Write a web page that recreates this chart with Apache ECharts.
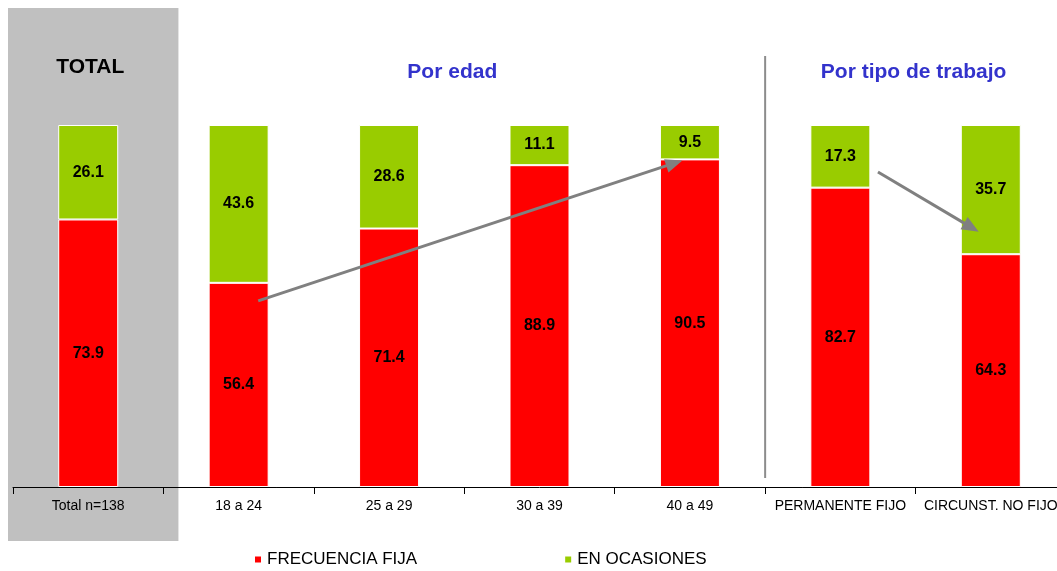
<!DOCTYPE html>
<html><head><meta charset="utf-8">
<script src="https://cdn.jsdelivr.net/npm/echarts@6/dist/echarts.min.js"></script>
<style>html,body{margin:0;padding:0;background:#fff;overflow:hidden}#c{width:1066px;height:571px}</style>
</head><body><div id="c"></div>
<script>
const categories = ['Total n=138','18 a 24','25 a 29','30 a 39','40 a 49','PERMANENTE FIJO','CIRCUNST. NO FIJO'];
const frecuenciaFija = [73.9,56.4,71.4,88.9,90.5,82.7,64.3];
const enOcasiones = [26.1,43.6,28.6,11.1,9.5,17.3,35.7];
const seriesNames = ['FRECUENCIA FIJA','EN OCASIONES'];
// arrow annotations in data space: [categoryIndex (0 = centre of first bar), value]
const arrowAge = [[1.13,51.4],[3.95,90.2]];
const arrowJob = [[5.25,87],[5.92,70.5]];

const chart = echarts.init(document.getElementById('c'));
const font = 'Liberation Sans, Arial, sans-serif';
const lbl = {show:true,position:'inside',color:'#000',fontWeight:'bold',fontSize:16,fontFamily:font,formatter:p=>p.value.toFixed(1)};
chart.setOption({
  animation:false,
  grid:{left:13,top:125,right:0,bottom:84,containLabel:false},
  legend:{top:546,left:248,itemGap:146,itemWidth:8,itemHeight:8,icon:'rect',
    textStyle:{fontSize:17,fontFamily:font,color:'#000'},data:seriesNames},
  xAxis:{type:'category',data:categories,
    axisLine:{lineStyle:{color:'#000',width:1}},
    axisTick:{show:true,length:7,lineStyle:{color:'#000'}},
    axisLabel:{interval:0,fontSize:14,fontFamily:font,color:'#000',margin:12}},
  yAxis:{type:'value',min:0,max:100,show:false,splitLine:{show:false}},
  series:[
    {name:seriesNames[0],type:'bar',stack:'a',barWidth:60,data:frecuenciaFija,
      itemStyle:{color:'#FF0000',borderColor:'#fff',borderWidth:1},label:lbl},
    {name:seriesNames[1],type:'bar',stack:'a',barWidth:60,data:enOcasiones,
      itemStyle:{color:'#99CC00',borderColor:'#fff',borderWidth:1},label:lbl}
  ]
});

function px(pt){
  const a = chart.convertToPixel({gridIndex:0},[0,0]);
  const b = chart.convertToPixel({gridIndex:0},[1,100]);
  const step = b[0]-a[0];
  return [a[0]+pt[0]*step, a[1]+(b[1]-a[1])*pt[1]/100];
}
function arrow(seg){
  const p0 = px(seg[0]), p1 = px(seg[1]);
  const dx=p1[0]-p0[0], dy=p1[1]-p0[1], L=Math.hypot(dx,dy), ux=dx/L, uy=dy/L;
  const hl=17, hw=7;
  const bx=p1[0]-ux*hl, by=p1[1]-uy*hl;
  return [
    {type:'line',shape:{x1:p0[0],y1:p0[1],x2:bx+ux*2,y2:by+uy*2},style:{stroke:'#808080',lineWidth:3},z:10},
    {type:'polygon',shape:{points:[[p1[0],p1[1]],[bx-uy*hw,by+ux*hw],[bx+uy*hw,by-ux*hw]]},style:{fill:'#808080'},z:10}
  ];
}
const b01 = px([0.5,0])[0];
const sepX = px([4.5,0])[0];
chart.setOption({graphic:[
  {type:'rect',shape:{x:8,y:8,width:b01+15-8,height:533},style:{fill:'#C0C0C0'},z:-10,silent:true},
  {type:'line',shape:{x1:sepX,y1:56,x2:sepX,y2:478},style:{stroke:'#8C8C8C',lineWidth:2},z:5},
  {type:'text',x:px([0,0])[0]+2,y:67,style:{text:'TOTAL',font:'bold 21px '+font,fill:'#000',textAlign:'center',textVerticalAlign:'middle'}},
  {type:'text',x:px([2.5,0])[0]-12,y:72,style:{text:'Por edad',font:'bold 21px '+font,fill:'#3333CC',textAlign:'center',textVerticalAlign:'middle'}},
  {type:'text',x:px([5.5,0])[0]-2,y:72,style:{text:'Por tipo de trabajo',font:'bold 21px '+font,fill:'#3333CC',textAlign:'center',textVerticalAlign:'middle'}},
  ...arrow(arrowAge),...arrow(arrowJob)
]});
</script></body></html>
